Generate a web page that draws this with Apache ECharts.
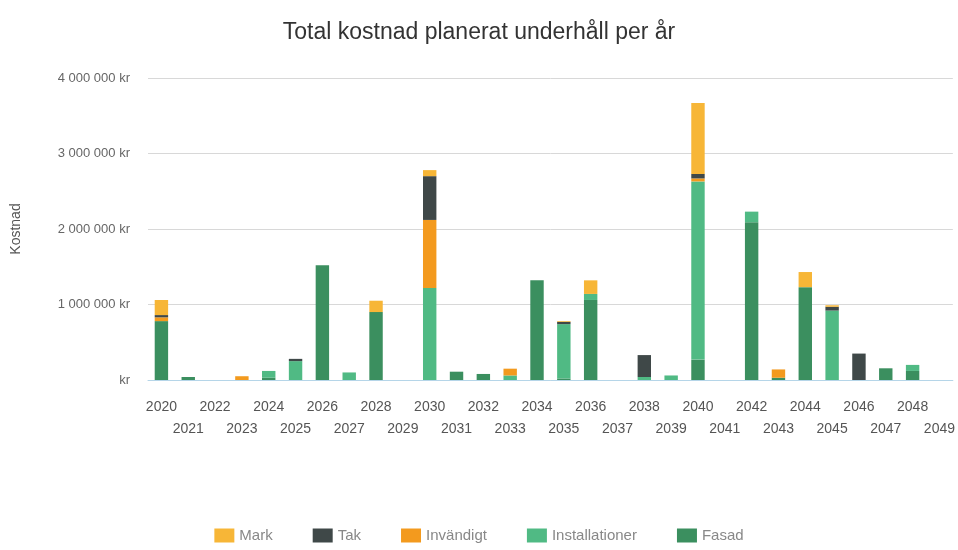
<!DOCTYPE html>
<html><head><meta charset="utf-8">
<script src="https://cdn.jsdelivr.net/npm/echarts@6/dist/echarts.min.js"></script>
<style>html,body{margin:0;padding:0;background:#fff}#c{width:958px;height:550px}</style>
</head><body><div id="c"></div>
<script>
const years = ['2020','2021','2022','2023','2024','2025','2026','2027','2028','2029','2030','2031','2032','2033','2034','2035','2036','2037','2038','2039','2040','2041','2042','2043','2044','2045','2046','2047','2048','2049'];
const fasad = [780000,40000,0,0,30000,0,1520000,0,900000,0,0,110000,80000,0,1320000,20000,1060000,0,0,0,270000,0,2090000,30000,1230000,0,0,155000,120000,0];
const installationer = [0,0,0,0,90000,250000,0,100000,0,0,1220000,0,0,60000,0,720000,80000,0,40000,60000,2360000,0,140000,0,0,920000,0,0,80000,0];
const invandigt = [50000,0,0,50000,0,0,0,0,0,0,900000,0,0,90000,0,0,0,0,0,0,40000,0,0,110000,0,0,0,0,0,0];
const tak = [30000,0,0,0,0,30000,0,0,0,0,580000,0,0,0,0,30000,0,0,290000,0,60000,0,0,0,0,50000,350000,0,0,0];
const mark = [200000,0,0,0,0,0,0,0,150000,0,80000,0,0,0,0,10000,180000,0,0,0,940000,0,0,0,200000,20000,0,0,0,0];
const yTicks = [0,1000000,2000000,3000000,4000000];

function fmt(v){ if(v===0) return 'kr'; return String(v).replace(/\B(?=(\d{3})+(?!\d))/g,' ')+' kr'; }
const colors = {Fasad:'#3b8f5f',Installationer:'#50ba84',Invändigt:'#f39a1e',Tak:'#3f4848',Mark:'#f7b637'};
const seriesDefs = [['Fasad',fasad],['Installationer',installationer],['Invändigt',invandigt],['Tak',tak],['Mark',mark]];
const chart = echarts.init(document.getElementById('c'));
chart.setOption({
  animation:false,
  textStyle:{fontFamily:'Liberation Sans, Arial, sans-serif'},
  title:{text:'Total kostnad planerat underhåll per år',left:'center',top:16,textStyle:{fontSize:23,fontWeight:'normal',color:'#333'}},
  legend:{bottom:2,left:'center',itemWidth:20,itemHeight:14,itemGap:40,icon:'rect',
    data:['Mark','Tak','Invändigt','Installationer','Fasad'],textStyle:{fontSize:15,color:'#888'}},
  grid:{left:148,right:5,top:78,bottom:170},
  xAxis:{type:'category',data:years,boundaryGap:true,
    axisLine:{lineStyle:{color:'#b5d5e8'}},
    axisTick:{alignWithLabel:false,length:8,lineStyle:{color:'#b5d5e8'}},
    axisLabel:{interval:0,fontSize:14,color:'#555',margin:16,lineHeight:22,formatter:(v,i)=> i%2 ? '\n'+v : v}},
  yAxis:{type:'value',min:yTicks[0],max:yTicks[yTicks.length-1],interval:1000000,
    name:'Kostnad',nameLocation:'middle',nameGap:125,nameTextStyle:{fontSize:14,color:'#555'},
    axisLabel:{fontSize:13,color:'#666',margin:18,formatter:fmt},
    axisLine:{show:false},axisTick:{show:false},
    splitLine:{lineStyle:{color:'#d8d8d8'}}},
  series: seriesDefs.map(([n,d])=>({name:n,type:'bar',stack:'a',data:d,barWidth:'50%',itemStyle:{color:colors[n]}}))
});
</script></body></html>
